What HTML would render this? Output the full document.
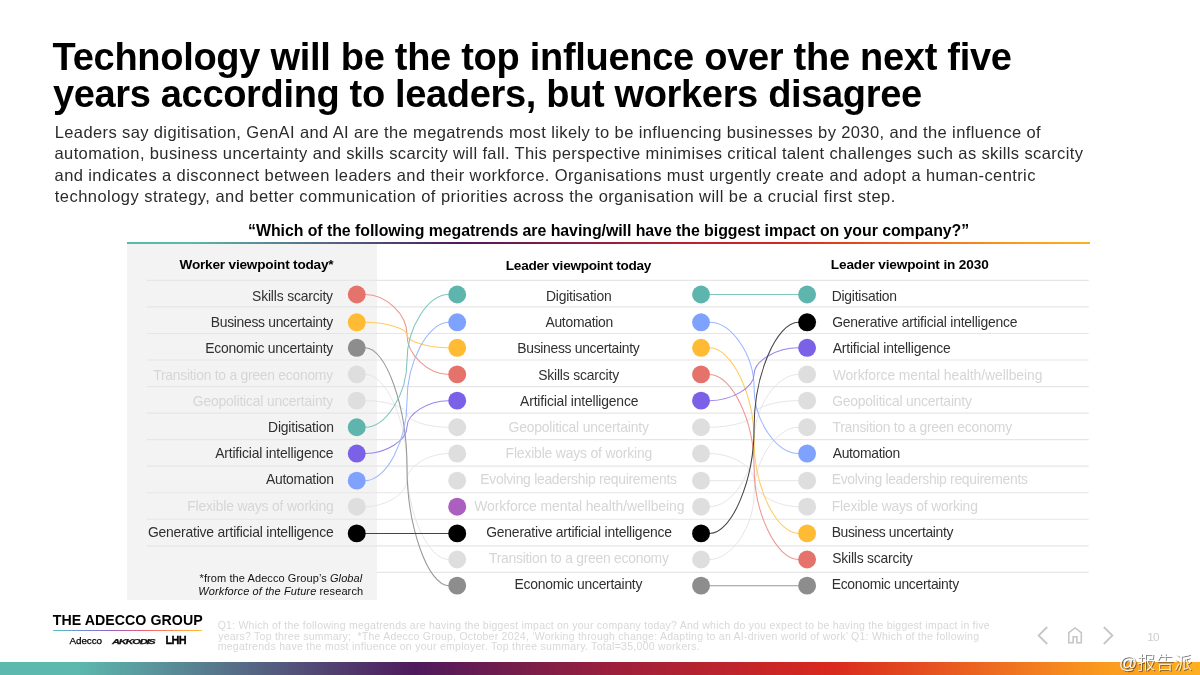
<!DOCTYPE html>
<html lang="en"><head><meta charset="utf-8">
<title>Technology will be the top influence over the next five years</title>
<style>
html,body{margin:0;padding:0;background:#fff;}
body{width:1200px;height:675px;position:relative;overflow:hidden;font-family:"Liberation Sans", sans-serif;}
.t{position:absolute;white-space:nowrap;line-height:1;margin:0;padding:0;}
#panel{position:absolute;left:127px;top:243px;width:250px;height:356.6px;background:#f3f3f3;}
#qline{position:absolute;left:127px;top:241.7px;width:963px;height:2.1px;background:linear-gradient(90deg,#5db8ae 0%,#5db8ae 6.5%,#4e1a5c 34.5%,#a0203a 52%,#d9281e 69%,#ee6c20 83%,#fa9a1e 92%,#ffb01e 100%);}
#lgline{position:absolute;left:52.8px;top:629.9px;width:149.4px;height:1.3px;background:linear-gradient(90deg,#5dc0c0 0%,#6f86d8 22%,#9a60c0 40%,#f06070 62%,#ff9050 82%,#ffc030 100%);}
#bar{position:absolute;left:0;top:662.2px;width:1200px;height:12.8px;background:linear-gradient(90deg,#5db8ae 0%,#5db8ae 6.5%,#4e1a5c 34.5%,#a0203a 52%,#d9281e 69%,#ee6c20 83%,#fa9a1e 92%,#ffb01e 100%);}
svg{position:absolute;left:0;top:0;pointer-events:none;}
h1,h2,h3,p,aside,header,main,footer,section,nav{margin:0;padding:0;font:inherit;display:block;}
#wm{position:absolute;white-space:nowrap;line-height:1;left:1118.8px;top:654.1px;font-size:18.2px;font-weight:300;
 font-family:"Liberation Sans","Noto Sans CJK SC",sans-serif;color:rgba(255,255,255,0.93);
 text-shadow:1px 1px 0.4px rgba(60,60,60,0.72);letter-spacing:0.1px;}
</style></head><body>
<header>
<h1><span class="t" id="t1" style="left:52.60px;top:37.83px;font-size:38.00px;font-weight:700;color:#000;letter-spacing:-0.286px;">Technology will be the top influence over the next five</span> <span class="t" id="t2" style="left:52.95px;top:74.83px;font-size:38.00px;font-weight:700;color:#000;letter-spacing:-0.335px;">years according to leaders, but workers disagree</span></h1>
<p><span class="t" id="b0" style="left:54.75px;top:124.03px;font-size:16.50px;font-weight:400;color:#2b2b2b;letter-spacing:0.382px;">Leaders say digitisation, GenAI and AI are the megatrends most likely to be influencing businesses by 2030, and the influence of</span> <span class="t" id="b1" style="left:54.55px;top:145.33px;font-size:16.50px;font-weight:400;color:#2b2b2b;letter-spacing:0.372px;">automation, business uncertainty and skills scarcity will fall. This perspective minimises critical talent challenges such as skills scarcity</span> <span class="t" id="b2" style="left:54.55px;top:166.63px;font-size:16.50px;font-weight:400;color:#2b2b2b;letter-spacing:0.406px;">and indicates a disconnect between leaders and their workforce. Organisations must urgently create and adopt a human-centric</span> <span class="t" id="b3" style="left:54.75px;top:187.93px;font-size:16.50px;font-weight:400;color:#2b2b2b;letter-spacing:0.457px;">technology strategy, and better communication of priorities across the organisation will be a crucial first step.</span></p>
</header>
<main>
<div id="panel"></div>
<div id="qline"></div>
<svg width="1200" height="675" viewBox="0 0 1200 675" aria-hidden="true">
<line x1="146.8" y1="280.40" x2="1088.7" y2="280.40" stroke="#e6e6e6" stroke-width="1.15"/>
<line x1="146.8" y1="306.94" x2="1088.7" y2="306.94" stroke="#e6e6e6" stroke-width="1.15"/>
<line x1="146.8" y1="333.48" x2="1088.7" y2="333.48" stroke="#e6e6e6" stroke-width="1.15"/>
<line x1="146.8" y1="360.02" x2="1088.7" y2="360.02" stroke="#e6e6e6" stroke-width="1.15"/>
<line x1="146.8" y1="386.56" x2="1088.7" y2="386.56" stroke="#e6e6e6" stroke-width="1.15"/>
<line x1="146.8" y1="413.10" x2="1088.7" y2="413.10" stroke="#e6e6e6" stroke-width="1.15"/>
<line x1="146.8" y1="439.64" x2="1088.7" y2="439.64" stroke="#e6e6e6" stroke-width="1.15"/>
<line x1="146.8" y1="466.18" x2="1088.7" y2="466.18" stroke="#e6e6e6" stroke-width="1.15"/>
<line x1="146.8" y1="492.72" x2="1088.7" y2="492.72" stroke="#e6e6e6" stroke-width="1.15"/>
<line x1="146.8" y1="519.26" x2="1088.7" y2="519.26" stroke="#e6e6e6" stroke-width="1.15"/>
<line x1="146.8" y1="545.80" x2="1088.7" y2="545.80" stroke="#e6e6e6" stroke-width="1.15"/>
<line x1="377.0" y1="572.34" x2="1088.7" y2="572.34" stroke="#e6e6e6" stroke-width="1.15"/>
<path d="M365.20 374.40C386.09 374.40 406.98 420.67 406.98 466.95C406.98 513.23 427.86 559.50 448.75 559.50" fill="none" stroke="#e6e6e6" stroke-width="1.00" stroke-opacity="1.00"/>
<path d="M365.20 400.65C386.09 400.65 406.98 407.30 406.98 413.95C406.98 420.60 427.86 427.25 448.75 427.25" fill="none" stroke="#e6e6e6" stroke-width="1.00" stroke-opacity="1.00"/>
<path d="M365.20 506.70C386.09 506.70 406.98 493.41 406.98 480.12C406.98 466.84 427.86 453.55 448.75 453.55" fill="none" stroke="#e6e6e6" stroke-width="1.00" stroke-opacity="1.00"/>
<path d="M365.20 294.50C386.09 294.50 406.98 314.48 406.98 334.45C406.98 354.42 427.86 374.40 448.75 374.40" fill="none" stroke="#ed958f" stroke-width="1.05" stroke-opacity="1.00"/>
<path d="M365.20 322.30C386.09 322.30 406.98 328.68 406.98 335.05C406.98 341.43 427.86 347.80 448.75 347.80" fill="none" stroke="#ffcb62" stroke-width="1.05" stroke-opacity="1.00"/>
<path d="M365.20 347.80C386.09 347.80 406.98 407.26 406.98 466.73C406.98 526.19 427.86 585.65 448.75 585.65" fill="none" stroke="#979797" stroke-width="1.05" stroke-opacity="1.00"/>
<path d="M365.20 427.25C386.09 427.25 406.98 394.06 406.98 360.88C406.98 327.69 427.86 294.50 448.75 294.50" fill="none" stroke="#7fc5be" stroke-width="1.05" stroke-opacity="1.00"/>
<path d="M365.20 453.55C386.09 453.55 406.98 440.32 406.98 427.10C406.98 413.88 427.86 400.65 448.75 400.65" fill="none" stroke="#9884ee" stroke-width="1.05" stroke-opacity="1.00"/>
<path d="M365.20 480.65C386.09 480.65 406.98 441.06 406.98 401.48C406.98 361.89 427.86 322.30 448.75 322.30" fill="none" stroke="#9cb7ff" stroke-width="1.05" stroke-opacity="1.00"/>
<path d="M365.20 533.40L448.75 533.40" fill="none" stroke="#444444" stroke-width="1.05" stroke-opacity="1.00"/>
<path d="M709.50 427.25C731.79 427.25 754.08 420.60 754.08 413.95C754.08 407.30 776.36 400.65 798.65 400.65" fill="none" stroke="#e6e6e6" stroke-width="1.00" stroke-opacity="1.00"/>
<path d="M709.50 453.55C731.79 453.55 754.08 466.84 754.08 480.12C754.08 493.41 776.36 506.70 798.65 506.70" fill="none" stroke="#e6e6e6" stroke-width="1.00" stroke-opacity="1.00"/>
<path d="M709.50 480.65L798.65 480.65" fill="none" stroke="#e6e6e6" stroke-width="1.00" stroke-opacity="1.00"/>
<path d="M709.50 506.70C731.79 506.70 754.08 473.62 754.08 440.55C754.08 407.47 776.36 374.40 798.65 374.40" fill="none" stroke="#e6e6e6" stroke-width="1.00" stroke-opacity="1.00"/>
<path d="M709.50 559.50C731.79 559.50 754.08 526.44 754.08 493.38C754.08 460.31 776.36 427.25 798.65 427.25" fill="none" stroke="#e6e6e6" stroke-width="1.00" stroke-opacity="1.00"/>
<path d="M709.50 294.50L798.65 294.50" fill="none" stroke="#7fc5be" stroke-width="1.05" stroke-opacity="1.00"/>
<path d="M709.50 322.30C731.79 322.30 754.08 355.11 754.08 387.93C754.08 420.74 776.36 453.55 798.65 453.55" fill="none" stroke="#9cb7ff" stroke-width="1.05" stroke-opacity="1.00"/>
<path d="M709.50 347.80C731.79 347.80 754.08 394.20 754.08 440.60C754.08 487.00 776.36 533.40 798.65 533.40" fill="none" stroke="#ffcb62" stroke-width="1.05" stroke-opacity="1.00"/>
<path d="M709.50 374.40C731.79 374.40 754.08 420.67 754.08 466.95C754.08 513.23 776.36 559.50 798.65 559.50" fill="none" stroke="#ed958f" stroke-width="1.05" stroke-opacity="1.00"/>
<path d="M709.50 400.65C731.79 400.65 754.08 387.44 754.08 374.23C754.08 361.01 776.36 347.80 798.65 347.80" fill="none" stroke="#9884ee" stroke-width="1.05" stroke-opacity="1.00"/>
<path d="M709.50 533.40C731.79 533.40 754.08 480.62 754.08 427.85C754.08 375.07 776.36 322.30 798.65 322.30" fill="none" stroke="#444444" stroke-width="1.05" stroke-opacity="1.00"/>
<path d="M709.50 585.65L798.65 585.65" fill="none" stroke="#979797" stroke-width="1.05" stroke-opacity="1.00"/>
<circle cx="356.75" cy="294.50" r="8.95" fill="#e6736b"/>
<circle cx="356.75" cy="322.30" r="8.95" fill="#ffbb33"/>
<circle cx="356.75" cy="347.80" r="8.95" fill="#8d8d8d"/>
<circle cx="356.75" cy="374.40" r="8.95" fill="#dedede"/>
<circle cx="356.75" cy="400.65" r="8.95" fill="#dedede"/>
<circle cx="356.75" cy="427.25" r="8.95" fill="#5db5ad"/>
<circle cx="356.75" cy="453.55" r="8.95" fill="#7b61e8"/>
<circle cx="356.75" cy="480.65" r="8.95" fill="#80a2ff"/>
<circle cx="356.75" cy="506.70" r="8.95" fill="#dedede"/>
<circle cx="356.75" cy="533.40" r="8.95" fill="#000000"/>
<circle cx="457.20" cy="294.50" r="8.95" fill="#5db5ad"/>
<circle cx="701.05" cy="294.50" r="8.95" fill="#5db5ad"/>
<circle cx="457.20" cy="322.30" r="8.95" fill="#80a2ff"/>
<circle cx="701.05" cy="322.30" r="8.95" fill="#80a2ff"/>
<circle cx="457.20" cy="347.80" r="8.95" fill="#ffbb33"/>
<circle cx="701.05" cy="347.80" r="8.95" fill="#ffbb33"/>
<circle cx="457.20" cy="374.40" r="8.95" fill="#e6736b"/>
<circle cx="701.05" cy="374.40" r="8.95" fill="#e6736b"/>
<circle cx="457.20" cy="400.65" r="8.95" fill="#7b61e8"/>
<circle cx="701.05" cy="400.65" r="8.95" fill="#7b61e8"/>
<circle cx="457.20" cy="427.25" r="8.95" fill="#dedede"/>
<circle cx="701.05" cy="427.25" r="8.95" fill="#dedede"/>
<circle cx="457.20" cy="453.55" r="8.95" fill="#dedede"/>
<circle cx="701.05" cy="453.55" r="8.95" fill="#dedede"/>
<circle cx="457.20" cy="480.65" r="8.95" fill="#dedede"/>
<circle cx="701.05" cy="480.65" r="8.95" fill="#dedede"/>
<circle cx="457.20" cy="506.70" r="8.95" fill="#ab60c0"/>
<circle cx="701.05" cy="506.70" r="8.95" fill="#dedede"/>
<circle cx="457.20" cy="533.40" r="8.95" fill="#000000"/>
<circle cx="701.05" cy="533.40" r="8.95" fill="#000000"/>
<circle cx="457.20" cy="559.50" r="8.95" fill="#dedede"/>
<circle cx="701.05" cy="559.50" r="8.95" fill="#dedede"/>
<circle cx="457.20" cy="585.65" r="8.95" fill="#8d8d8d"/>
<circle cx="701.05" cy="585.65" r="8.95" fill="#8d8d8d"/>
<circle cx="807.10" cy="294.50" r="8.95" fill="#5db5ad"/>
<circle cx="807.10" cy="322.30" r="8.95" fill="#000000"/>
<circle cx="807.10" cy="347.80" r="8.95" fill="#7b61e8"/>
<circle cx="807.10" cy="374.40" r="8.95" fill="#dedede"/>
<circle cx="807.10" cy="400.65" r="8.95" fill="#dedede"/>
<circle cx="807.10" cy="427.25" r="8.95" fill="#dedede"/>
<circle cx="807.10" cy="453.55" r="8.95" fill="#80a2ff"/>
<circle cx="807.10" cy="480.65" r="8.95" fill="#dedede"/>
<circle cx="807.10" cy="506.70" r="8.95" fill="#dedede"/>
<circle cx="807.10" cy="533.40" r="8.95" fill="#ffbb33"/>
<circle cx="807.10" cy="559.50" r="8.95" fill="#e6736b"/>
<circle cx="807.10" cy="585.65" r="8.95" fill="#8d8d8d"/>
</svg>
<h2><span class="t" id="q" style="left:248.05px;top:223.24px;font-size:15.90px;font-weight:700;color:#000;letter-spacing:-0.051px;">“Which of the following megatrends are having/will have the biggest impact on your company?”</span></h2>
<section class="col">
<h3><span class="t" id="hL" style="left:179.50px;top:257.79px;font-size:13.60px;font-weight:700;color:#000;letter-spacing:-0.193px;">Worker viewpoint today*</span></h3>
<div class="t" id="L0" style="left:252.05px;top:290.23px;font-size:13.90px;font-weight:400;color:#303030;letter-spacing:-0.168px;">Skills scarcity</div>
<div class="t" id="L1" style="left:210.75px;top:316.23px;font-size:13.90px;font-weight:400;color:#303030;letter-spacing:-0.303px;">Business uncertainty</div>
<div class="t" id="L2" style="left:205.35px;top:342.23px;font-size:13.90px;font-weight:400;color:#303030;letter-spacing:-0.261px;">Economic uncertainty</div>
<div class="t" id="L3" style="left:153.25px;top:369.23px;font-size:13.90px;font-weight:400;color:#d6d6d6;letter-spacing:-0.259px;">Transition to a green economy</div>
<div class="t" id="L4" style="left:192.75px;top:395.23px;font-size:13.90px;font-weight:400;color:#d6d6d6;letter-spacing:-0.174px;">Geopolitical uncertainty</div>
<div class="t" id="L5" style="left:268.05px;top:421.23px;font-size:13.90px;font-weight:400;color:#303030;letter-spacing:-0.191px;">Digitisation</div>
<div class="t" id="L6" style="left:215.20px;top:447.23px;font-size:13.90px;font-weight:400;color:#303030;letter-spacing:-0.166px;">Artificial intelligence</div>
<div class="t" id="L7" style="left:266.05px;top:473.23px;font-size:13.90px;font-weight:400;color:#303030;letter-spacing:-0.261px;">Automation</div>
<div class="t" id="L8" style="left:187.20px;top:500.23px;font-size:13.90px;font-weight:400;color:#d6d6d6;letter-spacing:-0.170px;">Flexible ways of working</div>
<div class="t" id="L9" style="left:147.90px;top:526.23px;font-size:13.90px;font-weight:400;color:#303030;letter-spacing:-0.198px;">Generative artificial intelligence</div>
</section>
<section class="col">
<h3><span class="t" id="hM" style="left:505.80px;top:259.19px;font-size:13.60px;font-weight:700;color:#000;letter-spacing:-0.262px;">Leader viewpoint today</span></h3>
<div class="t" id="M0" style="left:545.90px;top:290.23px;font-size:13.90px;font-weight:400;color:#303030;letter-spacing:-0.191px;">Digitisation</div>
<div class="t" id="M1" style="left:545.40px;top:316.23px;font-size:13.90px;font-weight:400;color:#303030;letter-spacing:-0.261px;">Automation</div>
<div class="t" id="M2" style="left:517.25px;top:342.23px;font-size:13.90px;font-weight:400;color:#303030;letter-spacing:-0.303px;">Business uncertainty</div>
<div class="t" id="M3" style="left:538.15px;top:369.23px;font-size:13.90px;font-weight:400;color:#303030;letter-spacing:-0.168px;">Skills scarcity</div>
<div class="t" id="M4" style="left:520.10px;top:395.23px;font-size:13.90px;font-weight:400;color:#303030;letter-spacing:-0.166px;">Artificial intelligence</div>
<div class="t" id="M5" style="left:508.50px;top:421.23px;font-size:13.90px;font-weight:400;color:#d6d6d6;letter-spacing:-0.174px;">Geopolitical uncertainty</div>
<div class="t" id="M6" style="left:505.60px;top:447.23px;font-size:13.90px;font-weight:400;color:#d6d6d6;letter-spacing:-0.170px;">Flexible ways of working</div>
<div class="t" id="M7" style="left:480.30px;top:473.23px;font-size:13.90px;font-weight:400;color:#d6d6d6;letter-spacing:-0.281px;">Evolving leadership requirements</div>
<div class="t" id="M8" style="left:474.30px;top:500.23px;font-size:13.90px;font-weight:400;color:#d6d6d6;letter-spacing:-0.061px;">Workforce mental health/wellbeing</div>
<div class="t" id="M9" style="left:486.20px;top:526.23px;font-size:13.90px;font-weight:400;color:#303030;letter-spacing:-0.198px;">Generative artificial intelligence</div>
<div class="t" id="M10" style="left:489.00px;top:552.23px;font-size:13.90px;font-weight:400;color:#d6d6d6;letter-spacing:-0.259px;">Transition to a green economy</div>
<div class="t" id="M11" style="left:514.55px;top:578.23px;font-size:13.90px;font-weight:400;color:#303030;letter-spacing:-0.261px;">Economic uncertainty</div>
</section>
<section class="col">
<h3><span class="t" id="hR" style="left:830.80px;top:257.79px;font-size:13.60px;font-weight:700;color:#000;letter-spacing:-0.130px;">Leader viewpoint in 2030</span></h3>
<div class="t" id="R0" style="left:831.70px;top:290.23px;font-size:13.90px;font-weight:400;color:#303030;letter-spacing:-0.232px;">Digitisation</div>
<div class="t" id="R1" style="left:832.20px;top:316.23px;font-size:13.90px;font-weight:400;color:#303030;letter-spacing:-0.212px;">Generative artificial intelligence</div>
<div class="t" id="R2" style="left:832.70px;top:342.23px;font-size:13.90px;font-weight:400;color:#303030;letter-spacing:-0.175px;">Artificial intelligence</div>
<div class="t" id="R3" style="left:832.70px;top:369.23px;font-size:13.90px;font-weight:400;color:#d6d6d6;letter-spacing:-0.075px;">Workforce mental health/wellbeing</div>
<div class="t" id="R4" style="left:832.20px;top:395.23px;font-size:13.90px;font-weight:400;color:#d6d6d6;letter-spacing:-0.204px;">Geopolitical uncertainty</div>
<div class="t" id="R5" style="left:832.45px;top:421.23px;font-size:13.90px;font-weight:400;color:#d6d6d6;letter-spacing:-0.266px;">Transition to a green economy</div>
<div class="t" id="R6" style="left:832.70px;top:447.23px;font-size:13.90px;font-weight:400;color:#303030;letter-spacing:-0.311px;">Automation</div>
<div class="t" id="R7" style="left:831.70px;top:473.23px;font-size:13.90px;font-weight:400;color:#d6d6d6;letter-spacing:-0.295px;">Evolving leadership requirements</div>
<div class="t" id="R8" style="left:831.70px;top:500.23px;font-size:13.90px;font-weight:400;color:#d6d6d6;letter-spacing:-0.189px;">Flexible ways of working</div>
<div class="t" id="R9" style="left:831.70px;top:526.23px;font-size:13.90px;font-weight:400;color:#303030;letter-spacing:-0.339px;">Business uncertainty</div>
<div class="t" id="R10" style="left:832.20px;top:552.23px;font-size:13.90px;font-weight:400;color:#303030;letter-spacing:-0.200px;">Skills scarcity</div>
<div class="t" id="R11" style="left:831.70px;top:578.23px;font-size:13.90px;font-weight:400;color:#303030;letter-spacing:-0.284px;">Economic uncertainty</div>
</section>
<aside><span class="t" id="fn1" style="left:199.55px;top:573.39px;font-size:11.00px;font-weight:400;color:#111;letter-spacing:0.088px;">*from the Adecco Group’s <i>Global</i></span> <span class="t" id="fn2" style="left:198.30px;top:585.69px;font-size:11.00px;font-weight:400;color:#111;letter-spacing:0.110px;"><i>Workforce of the Future</i> research</span></aside>
</main>
<footer>
<div class="logo"><span class="t" id="lg" style="left:52.70px;top:612.78px;font-size:14.20px;font-weight:700;color:#000;letter-spacing:0.047px;">THE ADECCO GROUP</span><div id="lgline"></div><span class="t" id="lg1" style="left:69.45px;top:635.62px;font-size:9.90px;font-weight:400;color:#000;letter-spacing:-0.060px;-webkit-text-stroke:0.25px #000;">Adecco</span><span class="t" id="lg2" style="left:111.95px;top:637.77px;font-size:7.60px;font-weight:700;color:#111;letter-spacing:-0.816px;font-style:italic;transform:scaleX(1.45);transform-origin:0 50%;-webkit-text-stroke:0.25px #111;">AKKODIS</span><span class="t" id="lg3" style="left:165.55px;top:634.97px;font-size:10.90px;font-weight:700;color:#000;letter-spacing:-0.675px;-webkit-text-stroke:0.3px #000;">LHH</span></div>
<p class="src"><span class="t" id="f0" style="left:217.70px;top:619.51px;font-size:10.50px;font-weight:400;color:#d8d8d8;letter-spacing:0.235px;">Q1: Which of the following megatrends are having the biggest impact on your company today? And which do you expect to be having the biggest impact in five</span> <span class="t" id="f1" style="left:218.20px;top:631.06px;font-size:10.50px;font-weight:400;color:#d8d8d8;letter-spacing:0.237px;">years? Top three summary;  *The Adecco Group, October 2024, ‘Working through change: Adapting to an AI-driven world of work’ Q1: Which of the following</span> <span class="t" id="f2" style="left:217.70px;top:640.61px;font-size:10.50px;font-weight:400;color:#d8d8d8;letter-spacing:0.282px;">megatrends have the most influence on your employer. Top three summary. Total=35,000 workers.</span></p>
<nav><svg width="1200" height="675" viewBox="0 0 1200 675" aria-hidden="true"><path d="M1047.2 627L1038.6 635.5L1047.2 644" fill="none" stroke="#c6c6c6" stroke-width="1.8"/>
<path d="M1103.8 627L1112.4 635.5L1103.8 644" fill="none" stroke="#c6c6c6" stroke-width="1.8"/>
<path d="M1068.8 642.8V632.7L1075 627.9L1081.3 632.7V642.8H1076.9V636.8H1073.2V642.8Z" fill="none" stroke="#c6c6c6" stroke-width="1.6" stroke-linejoin="miter"/></svg><span class="t" id="pg" style="left:1147.30px;top:631.81px;font-size:11.80px;font-weight:400;color:#cdcdcd;letter-spacing:-0.750px;">10</span></nav>
<div id="bar"></div>
<div id="wm">@报告派</div>
</footer>
</body></html>
